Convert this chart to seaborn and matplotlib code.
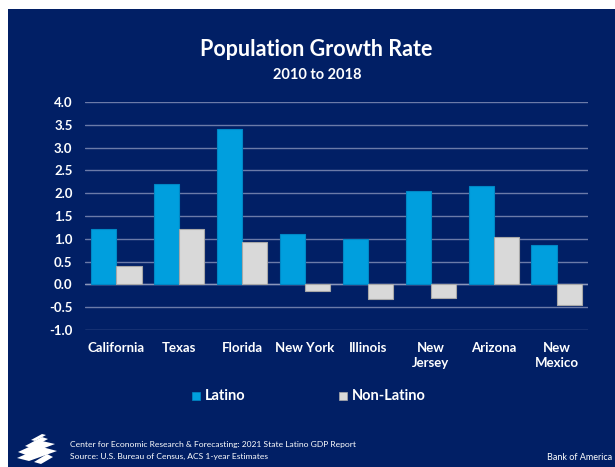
import matplotlib
matplotlib.use("Agg")
import matplotlib.pyplot as plt
from matplotlib.patches import Rectangle, Polygon
import seaborn as sns
import pandas as pd

# data
states = ["California", "Texas", "Florida", "New York", "Illinois",
          "New\nJersey", "Arizona", "New\nMexico"]
latino = [1.22, 2.21, 3.40, 1.10, 1.00, 2.04, 2.15, 0.87]
non_latino = [0.40, 1.21, 0.94, -0.14, -0.32, -0.29, 1.05, -0.46]
groups = ["Latino", "Non-Latino"]
y_ticks = [-1.0, -0.5, 0.0, 0.5, 1.0, 1.5, 2.0, 2.5, 3.0, 3.5, 4.0]

navy = "#011F65"
blue = "#009FDE"
grey = "#D9D9D9"
blue_edge = "#0088C6"
grey_edge = "#A8A8A8"

df = pd.DataFrame({
    "state": states * 2,
    "group": [groups[0]] * len(states) + [groups[1]] * len(states),
    "value": latino + non_latino,
})

sns.set_theme(style="white")
plt.rcParams["font.family"] = ["Lato", "DejaVu Sans"]

W, H = 615, 467
fig = plt.figure(figsize=(W / 100, H / 100), dpi=100)
fig.patch.set_facecolor("white")
# navy panel, thin white margin on top and left
fig.patches.append(Rectangle((8 / W, 0), 1, 1 - 9 / H, transform=fig.transFigure,
                             facecolor=navy, edgecolor="none", zorder=-10))

ax = fig.add_axes([85 / W, 137 / H, (588 - 85) / W, (330 - 102) / H])
ax.patch.set_alpha(0)

sns.barplot(data=df, x="state", y="value", hue="group", order=states,
            hue_order=groups, palette=[blue, grey], width=0.8, saturation=1,
            edgecolor="none", legend=False, ax=ax, zorder=3)
for bar in ax.patches:
    r, g, b, _ = bar.get_facecolor()
    bar.set_edgecolor(blue_edge if r < 0.2 else grey_edge)
    bar.set_linewidth(0.8)

ax.set_ylim(-1.0, 4.0)
ax.set_yticks(y_ticks)
ax.set_yticklabels([f"{t:.1f}" for t in y_ticks])
ax.yaxis.grid(True, color="#6B7AA8", lw=1.0, zorder=0)
ax.set_axisbelow(True)
ax.axhline(0, color="#8A96BA", lw=1.0, zorder=2)
for s in ax.spines.values():
    s.set_visible(False)
ax.set_xlabel("")
ax.set_ylabel("")
ax.tick_params(axis="both", length=0, colors="white", labelsize=9.5)
ax.tick_params(axis="x", pad=9)
ax.tick_params(axis="y", pad=9)
for lab in ax.get_xticklabels() + ax.get_yticklabels():
    lab.set_fontweight("bold")
    lab.set_color("white")
for lab in ax.get_xticklabels():
    lab.set_linespacing(1.25)

# titles
fig.text(316 / W, 1 - 50 / H, "Population Growth Rate", color="white",
         fontsize=15.5, fontweight="bold", ha="center", va="center")
fig.text(317 / W, 1 - 75 / H, "2010 to 2018", color="white",
         fontsize=10.5, fontweight="bold", ha="center", va="center")

# legend
for x0, name, c, ec in [(192, "Latino", blue, blue_edge),
                        (339, "Non-Latino", grey, grey_edge)]:
    fig.patches.append(Rectangle((x0 / W, 1 - 400 / H), 8 / W, 8 / H,
                                 transform=fig.transFigure, facecolor=c,
                                 edgecolor=ec, lw=0.5))
    fig.text((x0 + 13) / W, 1 - 396 / H, name, color="white", fontsize=10.5,
             fontweight="bold", ha="left", va="center")

# footer
fig.text(70 / W, 1 - 445 / H,
         "Center for Economic Research & Forecasting: 2021 State Latino GDP Report",
         color="white", fontsize=6.1, ha="left", va="center")
fig.text(70 / W, 1 - 456 / H, "Source: U.S. Bureau of Census, ACS 1-year Estimates",
         color="white", fontsize=6.1, ha="left", va="center")
fig.text(612 / W, 1 - 458 / H, "Bank of America", color="white", fontsize=6.5,
         ha="right", va="center")

# flag-style logo (rough)
stripes = [
    [(31, 440), (42, 434), (46, 435), (35, 441)],
    [(25, 446), (42, 437), (48, 439), (31, 448)],
    [(18, 452), (42, 441), (55, 444), (26, 455)],
    [(17, 458), (42, 447), (57, 451), (29, 461)],
    [(34, 462), (47, 454), (53, 457), (41, 464)],
]
for pts in stripes:
    fig.patches.append(Polygon([(x / W, 1 - y / H) for x, y in pts], closed=True,
                               transform=fig.transFigure, facecolor="white",
                               edgecolor="none"))

fig.savefig("out.png", dpi=100, facecolor=fig.get_facecolor())
